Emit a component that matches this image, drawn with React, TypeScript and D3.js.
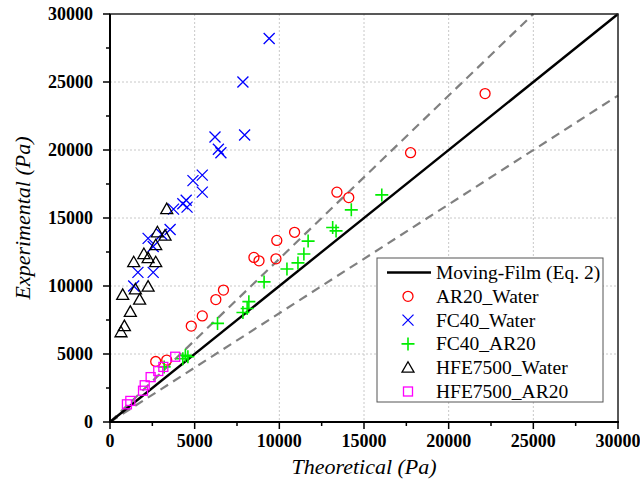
import React from "react";
import * as d3 from "d3";

const ticks = [0, 5000, 10000, 15000, 20000, 25000, 30000];
const minorTicks = [2500, 7500, 12500, 17500, 22500, 27500];

const ar20Water: [number, number][] = [
  [22150, 24150], [17750, 19800], [13400, 16900], [14100, 16500], [10900, 13950],
  [9850, 13350], [8500, 12100], [8800, 11850], [9800, 12000], [6700, 9700],
  [6250, 9000], [5450, 7800], [4800, 7050], [2700, 4450], [3350, 4550],
];
const fc40Water: [number, number][] = [
  [9400, 28200], [7850, 25000], [7950, 21100], [6200, 20950], [6400, 20050],
  [6550, 19800], [5450, 18150], [4900, 17750], [5450, 16900], [4500, 16300],
  [4300, 16050], [4550, 15800], [3750, 15650], [3550, 14150], [3050, 13800],
  [2250, 13500], [2550, 12900], [2550, 11000], [1650, 11000], [1400, 10000],
];
const fc40Ar20: [number, number][] = [
  [16050, 16700], [14250, 15600], [13150, 14300], [13350, 14050], [11700, 13300],
  [11450, 12350], [11100, 11700], [10450, 11250], [9100, 10300], [8200, 8850],
  [8100, 8350], [7850, 8050], [6350, 7250], [4300, 4650], [4600, 4800], [4450, 4900],
  [3200, 4050],
];
const hfeWater: [number, number][] = [
  [3350, 15650], [2800, 13950], [3250, 13700], [2700, 13000], [2000, 12350],
  [2250, 12050], [2700, 11750], [1400, 11750], [2250, 9950], [1500, 9750],
  [1750, 9000], [750, 9350], [1200, 8100], [850, 7050], [650, 6600],
];
const hfeAr20: [number, number][] = [
  [1000, 1300], [1200, 1550], [1950, 2300], [2050, 2700], [2400, 3300],
  [2850, 3750], [3150, 4050], [3850, 4800],
];

const legendLabels = ["Moving-Film (Eq. 2)", "AR20_Water", "FC40_Water", "FC40_AR20", "HFE7500_Water", "HFE7500_AR20"];

const L = 110, R = 618, T = 14, B = 422;
const serif = "'Liberation Serif', 'Times New Roman', serif";

function Marker({ type, x, y }: { type: string; x: number; y: number }) {
  switch (type) {
    case "circle":
      return <circle cx={x} cy={y} r={5} fill="none" stroke="#ff0000" strokeWidth={1.3} />;
    case "cross":
      return <path d={`M${x - 5.5},${y - 5.5}L${x + 5.5},${y + 5.5}M${x - 5.5},${y + 5.5}L${x + 5.5},${y - 5.5}`} stroke="#0000ff" strokeWidth={1.3} />;
    case "plus":
      return <path d={`M${x - 6.5},${y}L${x + 6.5},${y}M${x},${y - 6.5}L${x},${y + 6.5}`} stroke="#00ee00" strokeWidth={1.6} />;
    case "tri":
      return <path d={`M${x},${y - 6}L${x + 6},${y + 4.5}L${x - 6},${y + 4.5}Z`} fill="none" stroke="#000" strokeWidth={1.3} />;
    case "square":
      return <rect x={x - 4.5} y={y - 4.5} width={9} height={9} fill="none" stroke="#ff00ff" strokeWidth={1.3} />;
  }
  return null;
}

export default function App() {
  const xs = d3.scaleLinear().domain([0, 30000]).range([L, R]);
  const ys = d3.scaleLinear().domain([0, 30000]).range([B, T]);
  const line = d3.line<[number, number]>().x(d => xs(d[0])).y(d => ys(d[1]));

  const series: { type: string; data: [number, number][] }[] = [
    { type: "circle", data: ar20Water },
    { type: "cross", data: fc40Water },
    { type: "plus", data: fc40Ar20 },
    { type: "tri", data: hfeWater },
    { type: "square", data: hfeAr20 },
  ];

  const lx = 377, ly = 258, lw = 226, lh = 144;

  return (
    <svg width={640} height={491} style={{ position: "absolute", left: 0, top: 0, background: "#fff" }}>
      <rect x={0} y={0} width={640} height={491} fill="#fff" />
      {/* grid */}
      {ticks.slice(1, -1).map(t => (
        <g key={"g" + t}>
          <line x1={xs(t)} x2={xs(t)} y1={T} y2={B} stroke="#c8c8c8" strokeDasharray="2,2" strokeWidth={1} />
          <line x1={L} x2={R} y1={ys(t)} y2={ys(t)} stroke="#c8c8c8" strokeDasharray="2,2" strokeWidth={1} />
        </g>
      ))}
      {/* reference lines */}
      <path d={line([[0, 0], [25000, 30000]])!} stroke="#808080" strokeWidth={2.2} strokeDasharray="9,6" fill="none" />
      <path d={line([[0, 0], [30000, 24000]])!} stroke="#808080" strokeWidth={2.2} strokeDasharray="9,6" fill="none" />
      <path d={line([[0, 0], [30000, 30000]])!} stroke="#000" strokeWidth={2.4} fill="none" />
      {/* markers */}
      {series.map(s => s.data.map((d, i) => <Marker key={s.type + i} type={s.type} x={xs(d[0])} y={ys(d[1])} />))}
      {/* frame */}
      <rect x={L} y={T} width={R - L} height={B - T} fill="none" stroke="#222" strokeWidth={1.5} />
      <line x1={L} x2={L} y1={T} y2={B + 1} stroke="#000" strokeWidth={2} />
      <line x1={L - 1} x2={R + 1} y1={B} y2={B} stroke="#000" strokeWidth={2} />
      {/* ticks */}
      {ticks.map(t => (
        <g key={"t" + t}>
          <line x1={xs(t)} x2={xs(t)} y1={B} y2={B + 7} stroke="#000" strokeWidth={1.5} />
          <line x1={L} x2={L - 7} y1={ys(t)} y2={ys(t)} stroke="#000" strokeWidth={1.5} />
          <text x={xs(t)} y={B + 25} textAnchor="middle" fontFamily={serif} fontWeight="bold" fontSize={18}>{t}</text>
          <text x={L - 17} y={ys(t) + 6} textAnchor="end" fontFamily={serif} fontWeight="bold" fontSize={18}>{t}</text>
        </g>
      ))}
      {minorTicks.map(t => (
        <g key={"m" + t}>
          <line x1={xs(t)} x2={xs(t)} y1={B} y2={B + 4} stroke="#000" strokeWidth={1.5} />
          <line x1={L} x2={L - 4} y1={ys(t)} y2={ys(t)} stroke="#000" strokeWidth={1.5} />
        </g>
      ))}
      {/* axis titles */}
      <text x={(L + R) / 2} y={474} textAnchor="middle" fontFamily={serif} fontStyle="italic" fontSize={22}>Theoretical (Pa)</text>
      <text transform={`translate(30,${(T + B) / 2}) rotate(-90)`} textAnchor="middle" fontFamily={serif} fontStyle="italic" fontSize={22}>Experimental (Pa)</text>
      {/* legend */}
      <rect x={lx} y={ly} width={lw} height={lh} fill="#fff" stroke="#555" strokeWidth={1} />
      {legendLabels.map((lab, i) => {
        const cy = ly + 14.5 + i * 23.8;
        return (
          <g key={lab}>
            {i === 0 ? (
              <line x1={387} x2={431} y1={cy} y2={cy} stroke="#000" strokeWidth={2.4} />
            ) : (
              <Marker type={series[i - 1].type} x={408} y={cy} />
            )}
            <text x={436} y={cy + 6.5} fontFamily={serif} fontSize={19.5}>{lab}</text>
          </g>
        );
      })}
    </svg>
  );
}
